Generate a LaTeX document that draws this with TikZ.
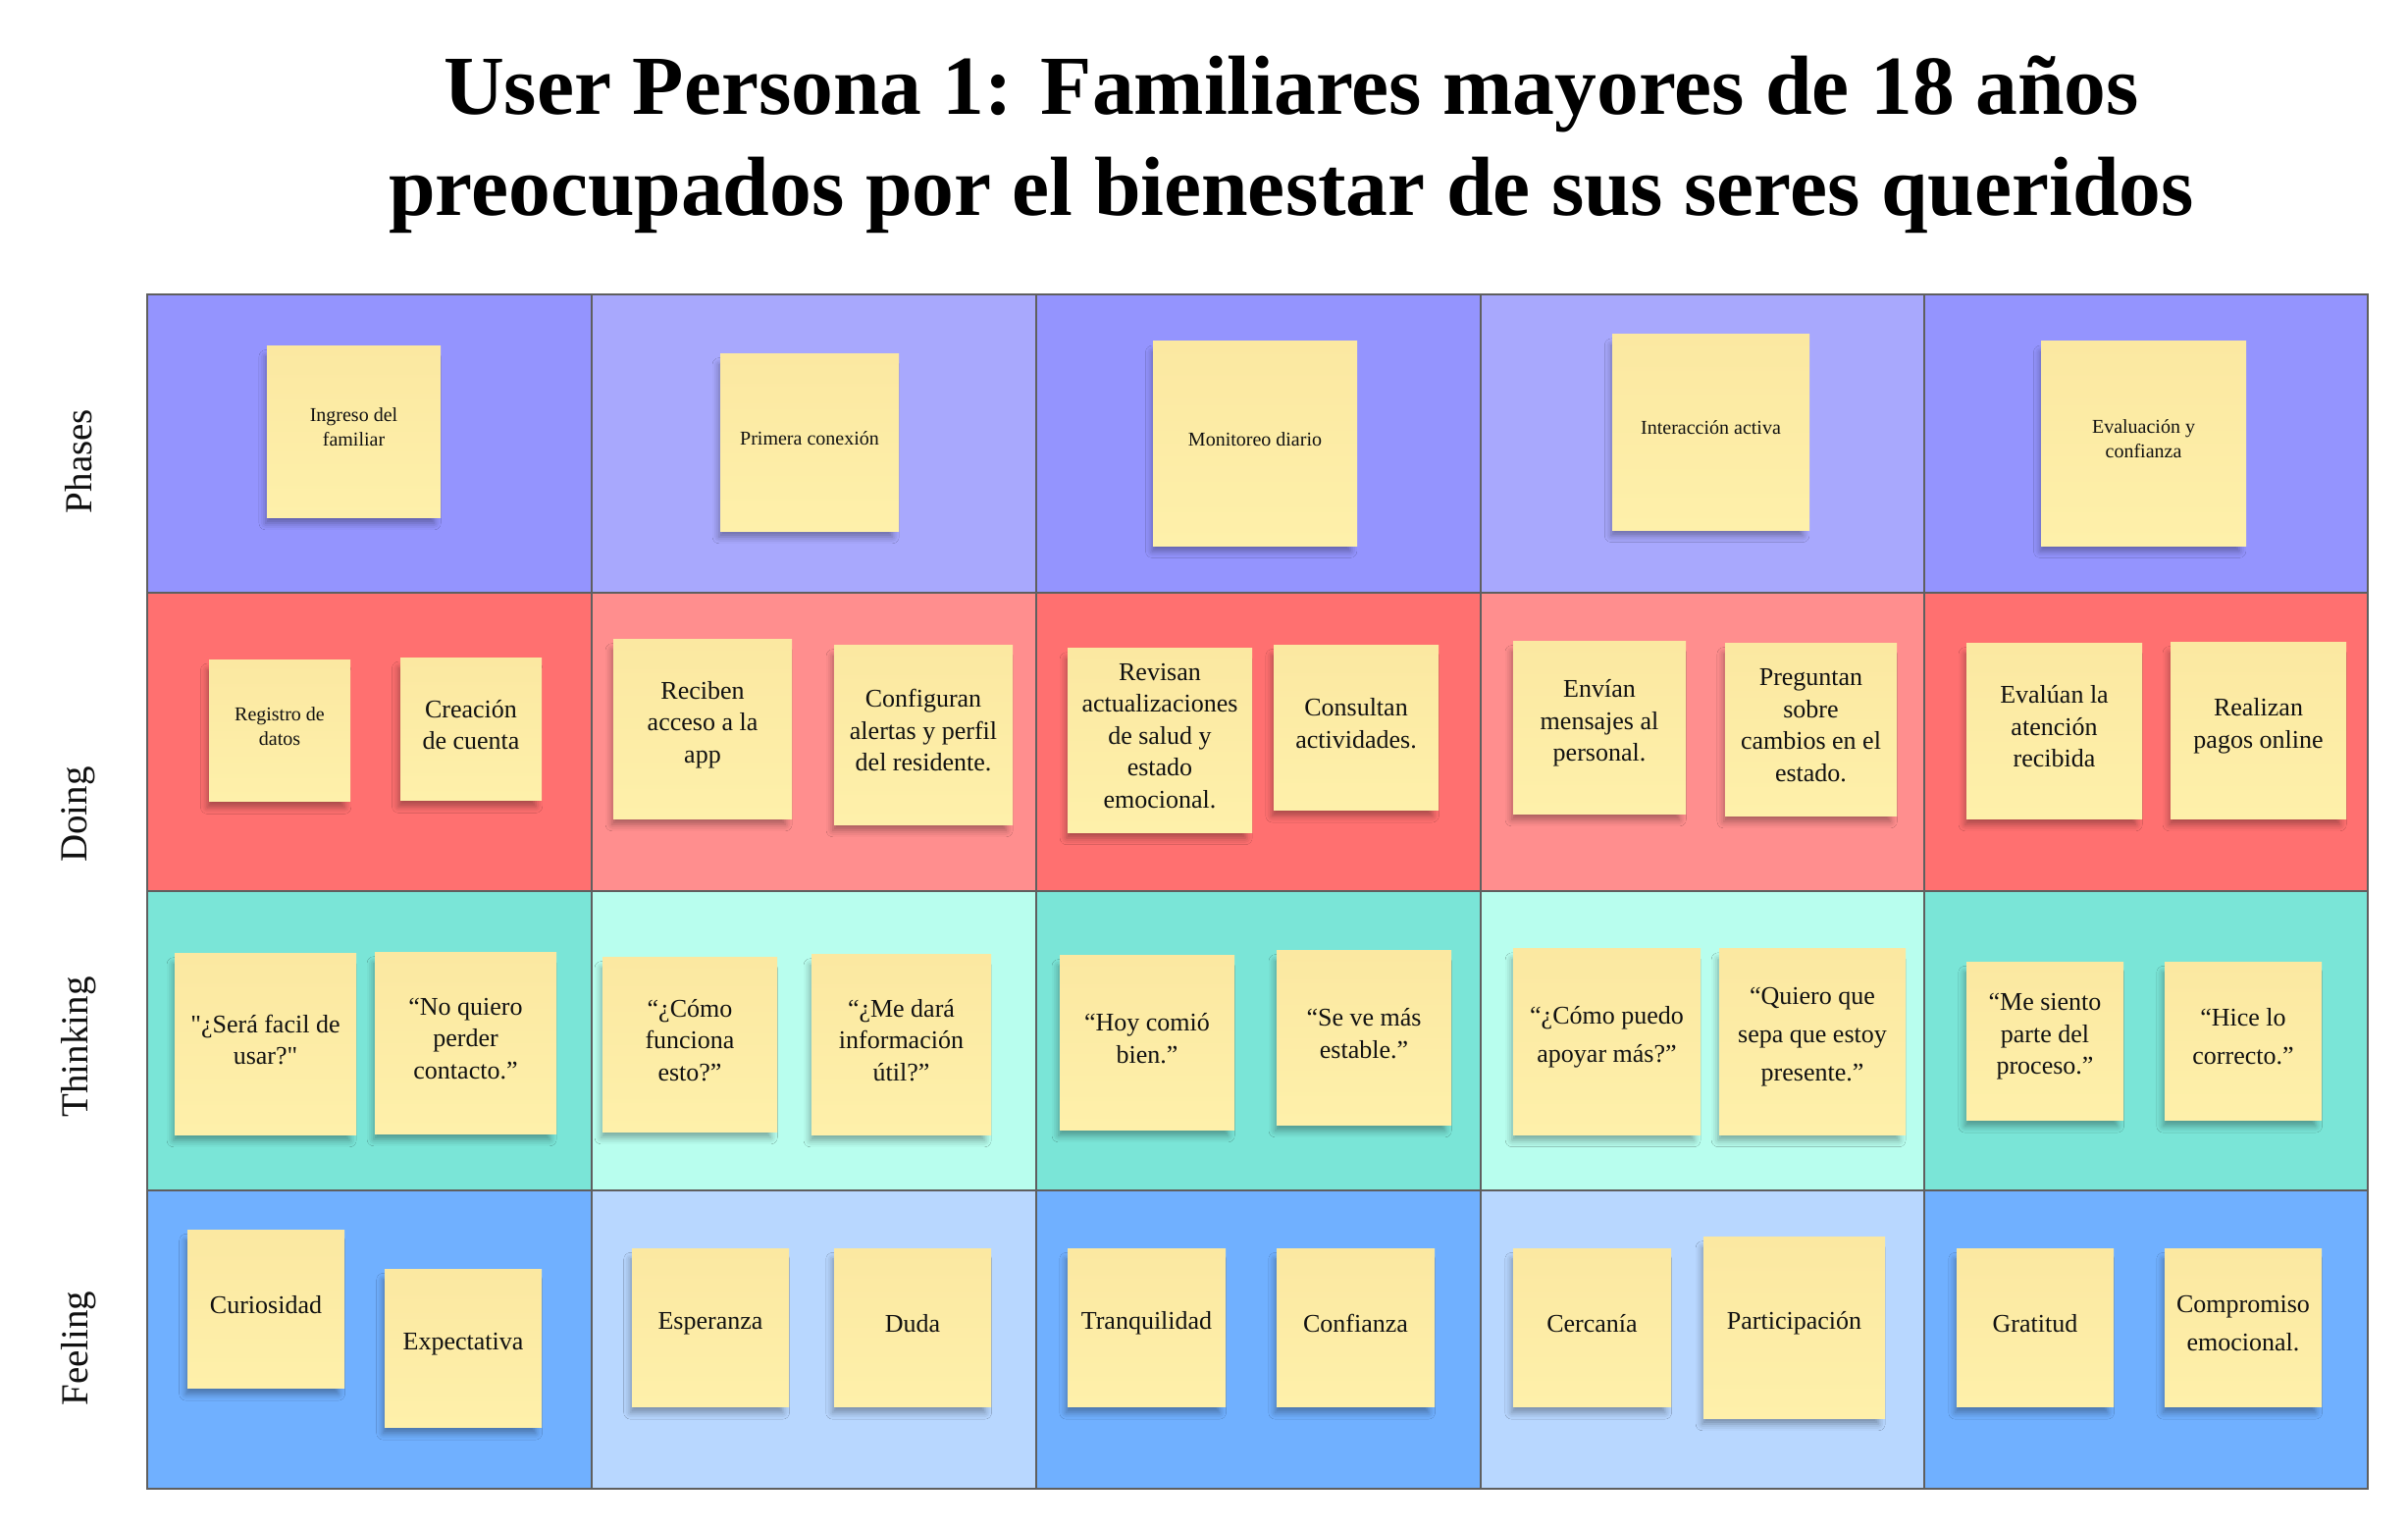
\documentclass[tikz,border=0pt]{standalone}
\usepackage{fontspec}
\setmainfont{Liberation Serif}
\newfontfamily\plainserif{Liberation Serif}
\usetikzlibrary{shadows.blur}
\definecolor{phA}{HTML}{9494FE}
\definecolor{phB}{HTML}{A8A8FD}
\definecolor{doA}{HTML}{FF7070}
\definecolor{doB}{HTML}{FF8E8E}
\definecolor{thA}{HTML}{7AE5D7}
\definecolor{thB}{HTML}{B8FEEE}
\definecolor{feA}{HTML}{70B0FF}
\definecolor{feB}{HTML}{B8D7FF}
\definecolor{noteT}{HTML}{FBE8A1}
\definecolor{noteB}{HTML}{FEF0AA}
\definecolor{gridc}{HTML}{5F5F5F}
\definecolor{inkc}{HTML}{111111}
\newcommand\stick[7]{%
  \node[note,minimum width={(#4-#2)*1pt},minimum height={(#5-#3)*1pt}] (#1) at ({(#2+#4)/2},{(#3+#5)/2}) {};
  \node[notetext,#6] (#1-t) at ([yshift=4pt]#1.center) {#7};}
\begin{document}
\begin{tikzpicture}[x=1pt,y=-1pt,
  note/.style={rectangle,inner sep=0pt,
    top color=noteT,bottom color=noteB,
    blur shadow={shadow xshift=-4pt,shadow yshift=-9pt,shadow blur radius=7pt,shadow opacity=35,shadow scale=0.97}},
  notetext/.style={inner sep=0pt,align=center,text=inkc},
  fsmall/.style={font=\fontsize{20}{25}\selectfont},
  fbig/.style={font=\fontsize{26}{32.5}\selectfont},
  fwide/.style={font=\fontsize{26}{39}\selectfont},
  fplain/.style={font=\plainserif\fontsize{26}{32.5}\selectfont},
  gridline/.style={draw=gridc,line width=2.6pt},
  rowlabel/.style={rotate=90,font=\fontsize{39}{47}\selectfont,text=inkc},
  titlefont/.style={font=\bfseries\fontsize{85.6}{102}\selectfont,anchor=base,text=black}]
\useasboundingbox (0,0) rectangle (2454,1557);
\fill[white] (0,0) rectangle (2454,1557);
% cells
\foreach \ya/\yb/\ca/\cb in {300/604/phA/phB,604/908/doA/doB,908/1213/thA/thB,1213/1517/feA/feB}{
  \fill[\ca] (150,\ya) rectangle (2413,\yb);
  \fill[\cb] (603,\ya) rectangle (1056,\yb);
  \fill[\cb] (1509,\ya) rectangle (1961,\yb);
}
\foreach \yy in {604,908,1213}{\draw[gridline] (150,\yy) -- (2413,\yy);}
\foreach \xx in {603,1056,1509,1961}{\draw[gridline] (\xx,300) -- (\xx,1517);}
\draw[gridline] (150,300) rectangle (2413,1517);
% title
\node[titlefont] (title1) at (1316,117) {User Persona 1: Familiares mayores de 18 años};
\node[titlefont] (title2) at (1316,219) {preocupados por el bienestar de sus seres queridos};
% row labels
\node[rowlabel] (lphases) at (80,470) {Phases};
\node[rowlabel] (ldoing) at (80,830) {Doing};
\node[rowlabel] (lthinking) at (80,1067) {Thinking};
\node[rowlabel] (lfeeling) at (80,1374) {Feeling};
% phases
\stick{p1}{272}{352}{449}{527}{fsmall}{Ingreso del\\familiar}
\stick{p2}{734}{360}{916}{541}{fsmall}{Primera conexión}
\stick{p3}{1175}{347}{1383}{556}{fsmall}{Monitoreo diario}
\stick{p4}{1643}{340}{1844}{540}{fsmall}{Interacción activa}
\stick{p5}{2080}{347}{2289}{556}{fsmall}{Evaluación y\\confianza}
% doing
\stick{d1a}{213}{672}{357}{816}{fsmall}{Registro de\\datos}
\stick{d1b}{408}{670}{552}{815}{fbig}{Creación\\de cuenta}
\stick{d2a}{625}{651}{807}{834}{fbig}{Reciben\\acceso a la\\app}
\stick{d2b}{850}{657}{1032}{840}{fbig}{Configuran\\alertas y perfil\\del residente.}
\stick{d3a}{1088}{660}{1276}{848}{fbig}{Revisan\\actualizaciones\\de salud y\\estado\\emocional.}
\stick{d3b}{1298}{657}{1466}{825}{fbig}{Consultan\\actividades.}
\stick{d4a}{1542}{653}{1718}{829}{fbig}{Envían\\mensajes al\\personal.}
\stick{d4b}{1758}{655}{1933}{831}{fbig}{Preguntan\\sobre\\cambios en el\\estado.}
\stick{d5a}{2004}{655}{2183}{834}{fbig}{Evalúan la\\atención\\recibida}
\stick{d5b}{2212}{654}{2391}{834}{fbig}{Realizan\\pagos online}
% thinking
\stick{t1a}{178}{971}{363}{1156}{fplain}{"¿Será facil de\\usar?"}
\stick{t1b}{382}{970}{567}{1155}{fbig}{“No quiero\\perder\\contacto.”}
\stick{t2a}{614}{975}{792}{1153}{fbig}{“¿Cómo\\funciona\\esto?”}
\stick{t2b}{827}{972}{1010}{1156}{fbig}{“¿Me dará\\información\\útil?”}
\stick{t3a}{1080}{973}{1258}{1151}{fbig}{“Hoy comió\\bien.”}
\stick{t3b}{1301}{968}{1479}{1146}{fbig}{“Se ve más\\estable.”}
\stick{t4a}{1542}{966}{1733}{1156}{fwide}{“¿Cómo puedo\\apoyar más?”}
\stick{t4b}{1752}{966}{1942}{1156}{fwide}{“Quiero que\\sepa que estoy\\presente.”}
\stick{t5a}{2004}{980}{2164}{1141}{fbig}{“Me siento\\parte del\\proceso.”}
\stick{t5b}{2206}{980}{2366}{1141}{fwide}{“Hice lo\\correcto.”}
% feeling
\stick{f1a}{191}{1253}{351}{1414}{fbig}{Curiosidad}
\stick{f1b}{392}{1293}{552}{1454}{fbig}{Expectativa}
\stick{f2a}{644}{1272}{804}{1433}{fbig}{Esperanza}
\stick{f2b}{850}{1272}{1010}{1433}{fbig}{Duda}
\stick{f3a}{1088}{1272}{1249}{1433}{fbig}{Tranquilidad}
\stick{f3b}{1301}{1272}{1462}{1433}{fbig}{Confianza}
\stick{f4a}{1542}{1272}{1703}{1433}{fbig}{Cercanía}
\stick{f4b}{1736}{1260}{1921}{1445}{fbig}{Participación}
\stick{f5a}{1994}{1272}{2154}{1433}{fbig}{Gratitud}
\stick{f5b}{2206}{1272}{2366}{1433}{fwide}{Compromiso\\emocional.}
\end{tikzpicture}
\end{document}
